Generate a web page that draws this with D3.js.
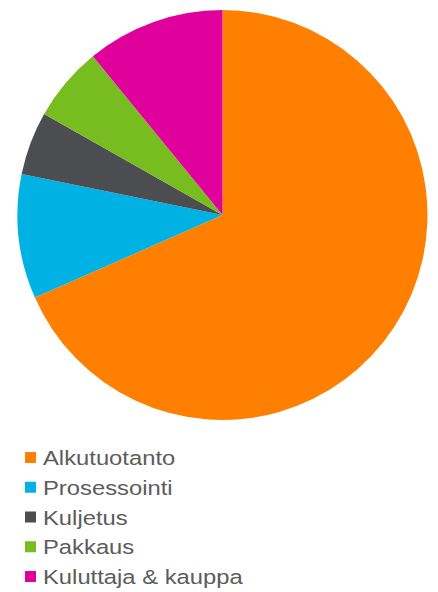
<!DOCTYPE html>
<html>
<head>
<meta charset="utf-8">
<script src="https://cdn.jsdelivr.net/npm/d3@7"></script>
<style>
  html, body { margin: 0; padding: 0; background: #fff; }
  svg { display: block; }
</style>
</head>
<body>
<div id="chart"></div>
<script>
// data (share of total, %)
const categories = ['Alkutuotanto', 'Prosessointi', 'Kuljetus', 'Pakkaus', 'Kuluttaja & kauppa'];
const values = [68.4, 9.8, 5.0, 5.9, 10.9];
const colors = ['#ff8000', '#00b2e3', '#4b4d50', '#78bd1f', '#e0009b'];

const width = 438, height = 592;
const cx = 222.5, cy = 215, radius = 205;

const svg = d3.select('#chart')
  .append('svg')
  .attr('width', width)
  .attr('height', height);

const color = d3.scaleOrdinal().domain(categories).range(colors);

// slices clockwise from 12 o'clock, in data order
const pie = d3.pie().sort(null).value(d => d.value);
const arc = d3.arc().innerRadius(0).outerRadius(radius);

const data = categories.map((c, i) => ({name: c, value: values[i]}));

svg.append('g')
  .attr('transform', `translate(${cx},${cy})`)
  .selectAll('path')
  .data(pie(data))
  .enter()
  .append('path')
  .attr('d', arc)
  .attr('fill', d => color(d.data.name));

// legend
const rowY = d3.scalePoint().domain(categories).range([465, 584]);

const legend = svg.append('g')
  .selectAll('g')
  .data(categories)
  .enter()
  .append('g')
  .attr('transform', d => `translate(25,${rowY(d)})`);

legend.append('rect')
  .attr('x', 0)
  .attr('y', -13)
  .attr('width', 11)
  .attr('height', 11)
  .attr('fill', d => color(d));

legend.append('text')
  .attr('transform', 'translate(18,0) scale(1.22,1)')
  .attr('font-family', '"Liberation Sans", Arial, sans-serif')
  .attr('font-size', '19.5px')
  .attr('fill', '#5c5c5c')
  .text(d => d);
</script>
</body>
</html>
